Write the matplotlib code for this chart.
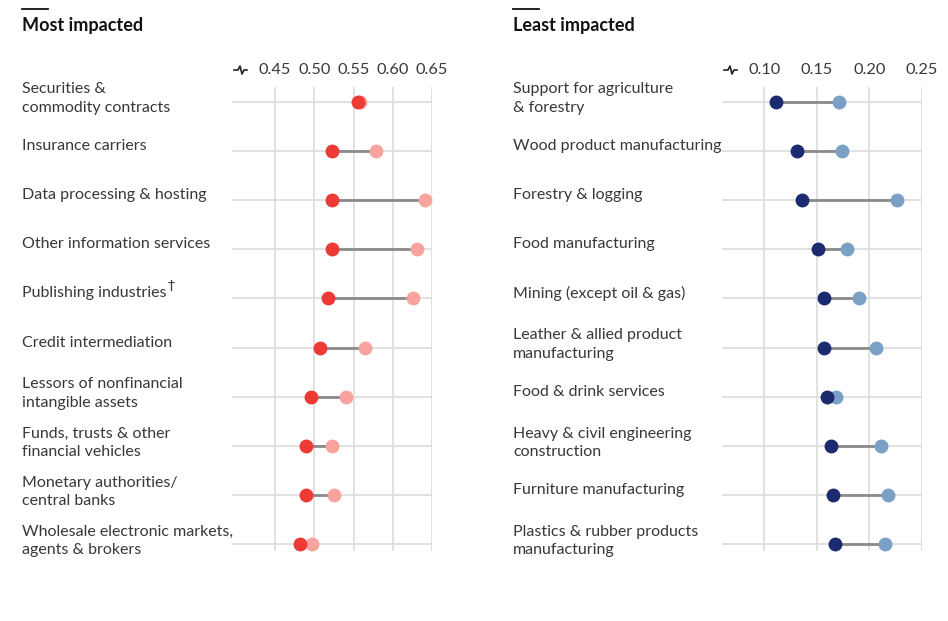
import matplotlib.pyplot as plt
from matplotlib.lines import Line2D

plt.rcParams['font.family'] = ['Lato', 'DejaVu Sans']

# Most impacted industries (dark = earlier, light = later)
most_labels = ["Securities &\ncommodity contracts", "Insurance carriers",
               "Data processing & hosting", "Other information services",
               "Publishing industries", "Credit intermediation",
               "Lessors of nonfinancial\nintangible assets",
               "Funds, trusts & other\nfinancial vehicles",
               "Monetary authorities/\ncentral banks",
               "Wholesale electronic markets,\nagents & brokers"]
most_dark = [0.556, 0.523, 0.523, 0.522, 0.517, 0.507, 0.496, 0.490, 0.490, 0.482]
most_light = [0.558, 0.579, 0.641, 0.631, 0.626, 0.565, 0.540, 0.523, 0.525, 0.497]
most_ticks = [0.45, 0.50, 0.55, 0.60, 0.65]

# Least impacted industries
least_labels = ["Support for agriculture\n& forestry", "Wood product manufacturing",
                "Forestry & logging", "Food manufacturing",
                "Mining (except oil & gas)",
                "Leather & allied product\nmanufacturing",
                "Food & drink services",
                "Heavy & civil engineering\nconstruction",
                "Furniture manufacturing",
                "Plastics & rubber products\nmanufacturing"]
least_dark = [0.111, 0.131, 0.136, 0.151, 0.157, 0.157, 0.160, 0.163, 0.165, 0.167]
least_light = [0.171, 0.174, 0.226, 0.179, 0.190, 0.206, 0.168, 0.211, 0.218, 0.215]
least_ticks = [0.10, 0.15, 0.20, 0.25]

W, H = 948, 621
fig = plt.figure(figsize=(W / 100, H / 100), dpi=100)

txt = "#383838"
grid = "#dedede"


def fx(px):
    return px / W


def fy(py):
    return 1 - py / H


def panel(left_px, xlim, ticks, labels, dark, light, c_dark, c_light, title, title_x):
    ax = fig.add_axes([fx(left_px), fy(551), 200 / W, 464 / H])
    n = len(labels)
    ys = list(range(n))
    ax.set_xlim(*xlim)
    ax.set_ylim(n - 1 + 0.14, -0.3)
    for s in ax.spines.values():
        s.set_visible(False)
    ax.set_xticks(ticks)
    ax.set_xticklabels([f"{t:.2f}" for t in ticks])
    ax.xaxis.tick_top()
    ax.tick_params(axis='x', length=0, pad=7, labelsize=11.8, labelcolor=txt)
    ax.set_yticks([])
    for t in ticks:
        ax.axvline(t, color=grid, lw=1.3, zorder=0)
    for y in ys:
        ax.axhline(y, color=grid, lw=1.3, zorder=0)
    for y, d, l in zip(ys, dark, light):
        ax.plot([d, l], [y, y], color="#8a8a8a", lw=2, zorder=1, solid_capstyle='butt')
    ax.plot(light, ys, 'o', color=c_light, ms=10, mec='none', zorder=2)
    ax.plot(dark, ys, 'o', color=c_dark, ms=10, mec='none', zorder=3)

    # category labels
    for y, lab in zip(ys, labels):
        off = 3 if "\n" in lab else 5
        t = ax.annotate(lab, xy=(0, y), xycoords=ax.get_yaxis_transform(),
                        xytext=(title_x - left_px, off), textcoords='offset pixels',
                        ha='left', va='center', fontsize=11.5, color=txt,
                        linespacing=1.42)
        if lab == "Publishing industries":
            fig.canvas.draw()
            bb = t.get_window_extent(fig.canvas.get_renderer())
            yc = (bb.y0 + bb.y1) / 2 + 7
            fig.text((bb.x1 + 1) / W, yc / H, "\u2020", fontsize=10,
                     color=txt, ha='left', va='center', family='DejaVu Sans')

    # broken-axis squiggle next to tick labels
    cx, cy = left_px + 8, 70
    pts = [(-6, 0), (-2, 0), (0, -4), (2, 4), (4, 0), (7, 0)]
    fig.add_artist(Line2D([fx(cx + a) for a, b in pts], [fy(cy + b) for a, b in pts],
                          color="#222222", lw=1.2))

    # title with short rule above
    fig.add_artist(Line2D([fx(title_x), fx(title_x + 26)], [fy(9), fy(9)],
                          color="#111111", lw=1.3))
    fig.text(fx(title_x), fy(25), title, fontsize=13, fontweight='bold',
             color="#111111", ha='left', va='center')
    return ax


panel(232, (0.3952, 0.65), most_ticks, most_labels, most_dark, most_light,
      "#ee3a35", "#f9a39e", "Most impacted", 22)
panel(722, (0.0597, 0.25), least_ticks, least_labels, least_dark, least_light,
      "#1c2a70", "#7aa0c6", "Least impacted", 513)

fig.savefig("out.png", dpi=100, facecolor="white")
